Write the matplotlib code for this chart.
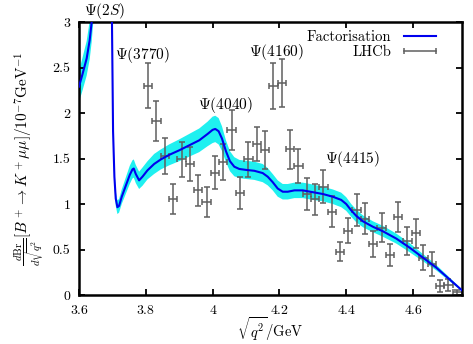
import matplotlib
matplotlib.use("Agg")
import matplotlib.pyplot as plt
from matplotlib.lines import Line2D

plt.rcParams['font.family'] = 'serif'
plt.rcParams['font.serif'] = ['cmr10']
plt.rcParams['mathtext.fontset'] = 'cm'
plt.rcParams['axes.formatter.use_mathtext'] = True
plt.rcParams['font.size'] = 10

# LHCb data points
lhcb_x = [3.807, 3.832, 3.857, 3.882, 3.907, 3.932, 3.957, 3.982, 4.007, 4.032,
          4.057, 4.082, 4.107, 4.132, 4.157, 4.182, 4.207, 4.232, 4.257, 4.282,
          4.307, 4.332, 4.357, 4.381, 4.406, 4.431, 4.456, 4.481, 4.506, 4.531,
          4.556, 4.583, 4.608, 4.631, 4.656, 4.681, 4.706, 4.733]
lhcb_y = [2.30, 1.915, 1.53, 1.06, 1.49, 1.44, 1.15, 1.025, 1.345, 1.465,
          1.81, 1.125, 1.49, 1.66, 1.59, 2.30, 2.33, 1.60, 1.42, 1.11,
          1.05, 1.19, 0.915, 0.476, 0.707, 0.934, 0.84, 0.56, 0.74, 0.44,
          0.86, 0.593, 0.678, 0.41, 0.34, 0.10, 0.11, 0.03]
lhcb_err = [0.245, 0.22, 0.20, 0.165, 0.19, 0.19, 0.17, 0.165, 0.185, 0.20,
            0.22, 0.175, 0.195, 0.19, 0.21, 0.255, 0.265, 0.21, 0.19, 0.175,
            0.17, 0.18, 0.17, 0.105, 0.135, 0.175, 0.17, 0.14, 0.16, 0.12,
            0.165, 0.15, 0.16, 0.135, 0.13, 0.065, 0.07, 0.03]
bin_half = 0.0125

# factorisation prediction
fac_x = [3.600, 3.610, 3.623, 3.632, 3.638, 3.650, 3.686, 3.696, 3.699, 3.702,
         3.706, 3.710, 3.715, 3.720, 3.728, 3.740, 3.752, 3.760, 3.764, 3.770,
         3.780, 3.790, 3.805, 3.825, 3.845, 3.870, 3.900, 3.930, 3.960, 3.985,
         4.000, 4.008, 4.018, 4.028, 4.040, 4.052, 4.065, 4.080, 4.100, 4.125,
         4.150, 4.165, 4.180, 4.195, 4.210, 4.225, 4.245, 4.270, 4.300, 4.330,
         4.360, 4.385, 4.400, 4.415, 4.430, 4.450, 4.480, 4.510, 4.550, 4.590,
         4.630, 4.670, 4.710, 4.750]
fac_y = [2.29, 2.42, 2.60, 2.80, 3.00, 3.60, 40.0, 4.00, 2.90, 1.80,
         1.30, 1.06, 0.965, 0.98, 1.08, 1.20, 1.32, 1.38, 1.39, 1.33,
         1.26, 1.30, 1.37, 1.44, 1.49, 1.54, 1.59, 1.645, 1.70, 1.77,
         1.815, 1.825, 1.80, 1.72, 1.58, 1.47, 1.41, 1.385, 1.375, 1.365,
         1.34, 1.30, 1.24, 1.17, 1.135, 1.135, 1.15, 1.15, 1.13, 1.11,
         1.08, 1.045, 1.00, 0.93, 0.87, 0.81, 0.75, 0.70, 0.62, 0.52,
         0.41, 0.30, 0.17, 0.04]
fac_err = [0.17, 0.18, 0.19, 0.21, 0.22, 0.27, 3.0, 0.30, 0.22, 0.14,
           0.10, 0.08, 0.075, 0.075, 0.08, 0.09, 0.10, 0.10, 0.10, 0.10,
           0.095, 0.10, 0.10, 0.11, 0.11, 0.115, 0.12, 0.125, 0.13, 0.135,
           0.145, 0.145, 0.145, 0.135, 0.12, 0.11, 0.105, 0.10, 0.10, 0.10,
           0.10, 0.095, 0.09, 0.09, 0.085, 0.085, 0.085, 0.085, 0.085, 0.08,
           0.08, 0.08, 0.075, 0.07, 0.07, 0.065, 0.06, 0.06, 0.055, 0.05,
           0.04, 0.03, 0.02, 0.01]

xticks = [3.6, 3.8, 4.0, 4.2, 4.4, 4.6]
xticklabels = ['3.6', '3.8', '4', '4.2', '4.4', '4.6']
yticks = [0, 0.5, 1, 1.5, 2, 2.5, 3]
yticklabels = ['0', '0.5', '1', '1.5', '2', '2.5', '3']

resonances = [r'$\Psi(2S)$', r'$\Psi(3770)$', r'$\Psi(4040)$', r'$\Psi(4160)$', r'$\Psi(4415)$']
res_pos = [(3.678, 3.12), (3.790, 2.637), (4.037, 2.088), (4.190, 2.67), (4.419, 1.50)]

fig = plt.figure(figsize=(4.73, 3.44), dpi=100)
ax = fig.add_axes([0.167, 0.1424, 0.81, 0.7936])

lo = [y - e for y, e in zip(fac_y, fac_err)]
hi = [y + e for y, e in zip(fac_y, fac_err)]
ax.fill_between(fac_x, lo, hi, color='#1ff0f0', lw=0, zorder=1)
ax.plot(fac_x, fac_y, color='#0000ee', lw=1.5, zorder=3)
ax.errorbar(lhcb_x, lhcb_y, yerr=lhcb_err, xerr=bin_half, fmt='none',
            ecolor='#5f5f5f', elinewidth=1.1, capsize=2.2, capthick=1.1,
            zorder=2)

for txt, (tx, ty) in zip(resonances, res_pos):
    ax.text(tx, ty, txt, ha='center', va='center', fontsize=11, clip_on=False)

ax.set_xlim(3.6, 4.747)
ax.set_ylim(0, 3)
ax.set_xticks(xticks)
ax.set_xticklabels(xticklabels)
ax.set_yticks(yticks)
ax.set_yticklabels(yticklabels)
ax.tick_params(direction='in', top=True, right=True, length=4, width=1.3)
ax.tick_params(axis='x', pad=7)
ax.tick_params(axis='y', pad=6)
for s in ax.spines.values():
    s.set_linewidth(1.8)

ax.set_xlabel(r'$\sqrt{q^2}/\mathrm{GeV}$', labelpad=-1, fontsize=10.5)
ax.set_ylabel(r'$\frac{d\mathrm{Br}}{d\sqrt{q^2}}[B^+\to K^+\mu\mu]/10^{-7}\mathrm{GeV}^{-1}$',
              labelpad=5, fontsize=11)

h_fac = Line2D([], [], color='#0000ee', lw=1.5)
h_lhcb = Line2D([], [], color='#5f5f5f', lw=1.1, marker='|', markersize=5,
                markeredgewidth=1.1)
ax.legend([h_fac, h_lhcb], ['Factorisation', 'LHCb'], loc='upper right',
          frameon=False, markerfirst=False, handlelength=2.8, numpoints=2,
          borderaxespad=0.25, borderpad=0.3, handletextpad=0.6,
          labelspacing=0.1, fontsize=10.5, bbox_to_anchor=(0.965, 1.0))

fig.savefig('out.png', dpi=100)
